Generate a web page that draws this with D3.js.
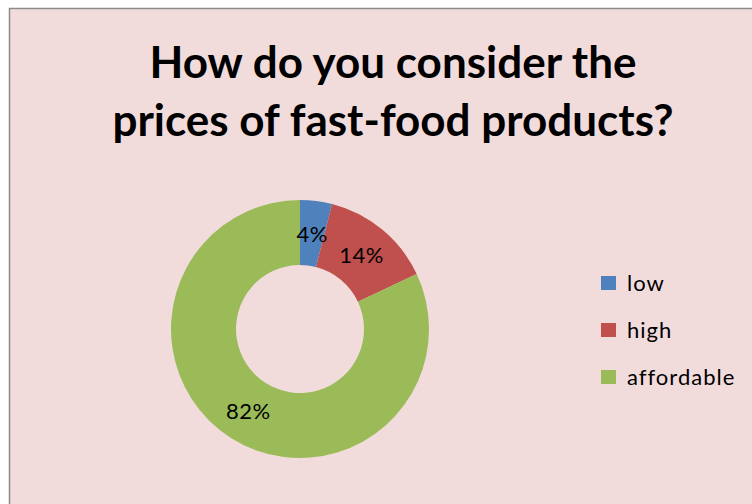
<!DOCTYPE html>
<html>
<head>
<meta charset="utf-8">
<script src="https://cdn.jsdelivr.net/npm/d3@7"></script>
<style>
  body { margin: 0; background: #fff; }
  svg { display: block; }
</style>
</head>
<body>
<div id="chart"></div>
<script>
const categories = ['low', 'high', 'affordable'];
const values = [4, 14, 82];
const titleLines = ['How do you consider the', 'prices of fast-food products?'];

const width = 752;
const height = 504;
const font = 'Lato, "Open Sans", sans-serif';

const color = d3.scaleOrdinal()
    .domain(categories)
    .range(['#4f81bd', '#c0504d', '#9bbb59']);

const svg = d3.select('#chart')
    .append('svg')
    .attr('width', width)
    .attr('height', height);

// chart background + border
svg.append('rect')
    .attr('x', 9.5)
    .attr('y', 8.5)
    .attr('width', width)
    .attr('height', height)
    .attr('fill', '#f2dcdb')
    .attr('stroke', '#8c8c8c')
    .attr('stroke-width', 1.5);

// title
svg.append('text')
    .attr('font-family', font)
    .attr('font-weight', 'bold')
    .attr('font-size', '44px')
    .attr('text-anchor', 'middle')
    .attr('fill', '#000')
    .selectAll('tspan')
    .data(titleLines)
    .join('tspan')
    .attr('x', 393)
    .attr('y', (d, i) => 78 + i * 58)
    .text(d => d);

const data = categories.map((c, i) => ({ cat: c, value: values[i] }));

const pie = d3.pie()
    .sort(null)
    .value(d => d.value);

const arc = d3.arc()
    .innerRadius(64)
    .outerRadius(129);

const g = svg.append('g')
    .attr('transform', 'translate(300, 329)');

const arcs = pie(data);

g.selectAll('path')
    .data(arcs)
    .join('path')
    .attr('fill', d => color(d.data.cat))
    .attr('d', arc);

// percentage labels
const total = d3.sum(values);
g.selectAll('text.label')
    .data(arcs)
    .join('text')
    .attr('class', 'label')
    .attr('transform', d => `translate(${arc.centroid(d)})`)
    .attr('dy', '0.4em')
    .attr('text-anchor', 'middle')
    .attr('font-family', font)
    .attr('font-size', '22px')
    .attr('letter-spacing', '0.5px')
    .attr('fill', '#000')
    .text(d => Math.round(d.data.value / total * 100) + '%');

// legend
const legendY = d3.scalePoint()
    .domain(categories)
    .range([283, 377]);

const legend = svg.append('g');

legend.selectAll('rect')
    .data(categories)
    .join('rect')
    .attr('x', 601)
    .attr('y', d => legendY(d) - 7)
    .attr('width', 15)
    .attr('height', 14)
    .attr('fill', d => color(d));

legend.selectAll('text')
    .data(categories)
    .join('text')
    .attr('x', 627)
    .attr('y', d => legendY(d))
    .attr('dy', '0.38em')
    .attr('font-family', font)
    .attr('font-size', '22px')
    .attr('letter-spacing', '1px')
    .attr('fill', '#000')
    .text(d => d);
</script>
</body>
</html>
